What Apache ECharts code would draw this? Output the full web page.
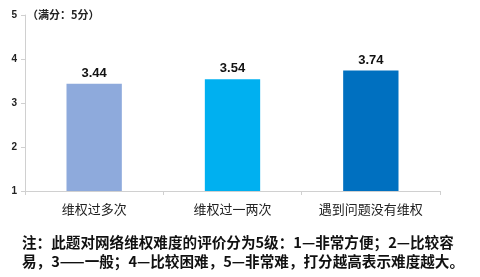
<!DOCTYPE html>
<html><head><meta charset="utf-8">
<script src="https://cdn.jsdelivr.net/npm/echarts@6/dist/echarts.min.js"></script>
<style>html,body{margin:0;padding:0;background:#fff}#c{width:480px;height:277px}</style>
</head><body><div id="c"></div>
<script>
const categories = ['维权过多次', '维权过一两次', '遇到问题没有维权'];
const values = [3.44, 3.54, 3.74];
const colors = ['#8eaadc', '#00b0f0', '#0070c0'];
const yTicks = [1, 2, 3, 4, 5];
const noteLines = ['注：此题对网络维权难度的评价分为5级：1—非常方便；2—比较容', '易，3——一般；4—比较困难，5—非常难，打分越高表示难度越大。'];
const subtitle = '（满分：5分）';

const chart = echarts.init(document.getElementById('c'));
const cjk = '"Noto Sans CJK SC", sans-serif';
chart.setOption({
  animation: false,
  grid: { left: 25, right: 40, top: 15, bottom: 86 },
  xAxis: {
    type: 'category', data: categories,
    axisLine: { lineStyle: { color: '#d0d0d0' } },
    axisTick: { show: true, length: 4, lineStyle: { color: '#d0d0d0' } },
    axisLabel: { color: '#222', fontSize: 13, fontFamily: cjk, margin: 12 }
  },
  yAxis: {
    type: 'value', min: yTicks[0], max: yTicks[yTicks.length - 1], interval: 1,
    axisLine: { show: true, lineStyle: { color: '#d0d0d0' } },
    axisTick: { show: true, length: 4, inside: false, lineStyle: { color: '#d0d0d0' } },
    splitLine: { show: false },
    axisLabel: { color: '#222', fontSize: 10, fontWeight: 'bold', fontFamily: 'Arial, sans-serif', margin: 8 }
  },
  series: [{
    type: 'bar', barWidth: '40%',
    data: values.map((v, i) => ({ value: v, itemStyle: { color: colors[i] } })),
    label: { show: true, position: 'top', color: '#111', fontSize: 13, fontWeight: 'bold', fontFamily: 'Arial, sans-serif', distance: 4, formatter: p => p.value.toFixed(2) }
  }],
  graphic: [
    { type: 'text', left: 27, top: 9, style: { text: subtitle, fontSize: 11, fontWeight: 'bold', fontFamily: cjk, fill: '#222' } },
    { type: 'text', left: 22, top: 235, style: { text: noteLines[0], fontSize: 14.6, fontWeight: 'bold', fontFamily: cjk, fill: '#111' } },
    { type: 'text', left: 22, top: 254, style: { text: noteLines[1], fontSize: 14.6, fontWeight: 'bold', fontFamily: cjk, fill: '#111' } }
  ]
});
</script></body></html>
